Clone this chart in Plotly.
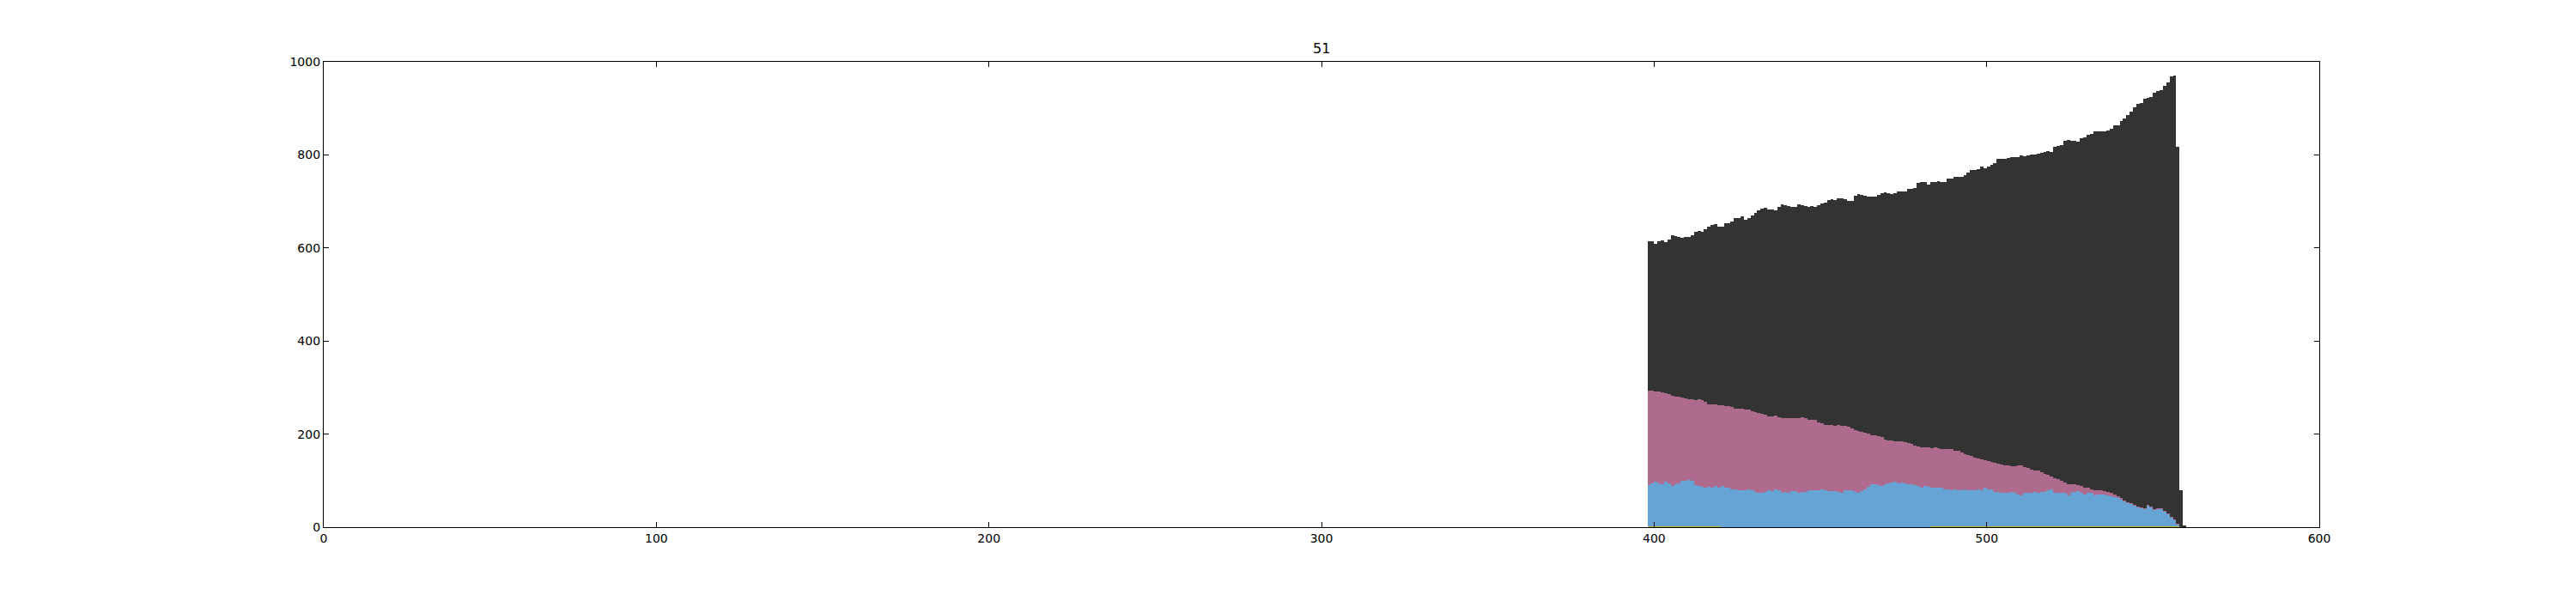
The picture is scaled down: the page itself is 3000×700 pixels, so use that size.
import numpy as np
import plotly.graph_objects as go

title_text = "51"
x_first = 398  # left edge of first bar (bars are 1 unit wide, edge-aligned)

# Level of the top of each stacked layer (one value per bar)
total_top = [615, 615, 608, 614, 616, 613, 619, 628, 626, 623, 621, 624, 623, 628, 634, 636, 634, 640, 646, 650,
             652, 646, 646, 653, 653, 656, 664, 665, 667, 661, 664, 669, 675, 680, 684, 687, 682, 682, 681, 688,
             693, 691, 690, 689, 689, 694, 692, 690, 688, 690, 689, 692, 695, 698, 703, 704, 703, 706, 706, 704,
             702, 702, 713, 716, 714, 712, 711, 710, 711, 714, 718, 720, 717, 715, 718, 722, 721, 721, 727, 727,
             728, 740, 741, 742, 737, 741, 742, 744, 742, 742, 749, 750, 752, 752, 753, 757, 762, 768, 768, 769,
             775, 771, 775, 778, 783, 791, 791, 791, 793, 795, 796, 795, 798, 797, 799, 800, 801, 803, 804, 807,
             809, 806, 817, 820, 821, 831, 832, 831, 831, 829, 835, 837, 843, 845, 851, 850, 850, 850, 852, 856,
             864, 864, 872, 878, 885, 893, 902, 909, 912, 921, 922, 925, 933, 938, 939, 949, 956, 968, 971, 818,
             80, 4]

pink_top = [293, 293, 292, 291, 290, 288, 286, 283, 281, 281, 278, 276, 274, 274, 273, 274, 273, 270, 264, 263,
            263, 262, 262, 261, 261, 258, 255, 254, 255, 253, 253, 250, 247, 245, 244, 241, 238, 238, 239, 237,
            234, 235, 235, 235, 234, 234, 236, 235, 230, 230, 230, 226, 223, 220, 219, 219, 218, 219, 217, 217,
            215, 213, 209, 207, 205, 203, 201, 198, 197, 196, 193, 189, 187, 186, 185, 184, 184, 182, 181, 179,
            176, 173, 172, 171, 171, 170, 171, 170, 168, 167, 167, 167, 164, 165, 161, 157, 155, 153, 150, 147,
            145, 143, 142, 140, 138, 136, 135, 133, 132, 131, 131, 132, 132, 130, 127, 124, 122, 122, 118, 114,
            113, 109, 106, 103, 100, 96, 93, 92, 92, 91, 88, 85, 84, 82, 80, 79, 79, 77, 76, 74,
            71, 67, 63, 57, 54, 51, 48, 45, 43, 41, 48, 45, 39, 40, 41, 35, 29, 23, 17, 8,
            0, 0]

blue_top = [90, 95, 97, 94, 93, 97, 95, 89, 92, 94, 99, 100, 102, 99, 90, 88, 87, 85, 87, 85,
            88, 85, 89, 85, 84, 82, 82, 80, 80, 79, 82, 79, 76, 73, 74, 76, 79, 77, 82, 79,
            73, 76, 74, 77, 77, 73, 76, 76, 79, 79, 80, 79, 82, 79, 77, 77, 77, 76, 74, 79,
            79, 80, 76, 73, 77, 82, 87, 92, 93, 90, 89, 92, 94, 96, 97, 95, 96, 95, 93, 93,
            90, 88, 85, 88, 87, 85, 84, 84, 85, 82, 82, 80, 82, 80, 80, 82, 79, 79, 80, 82,
            80, 85, 82, 82, 76, 76, 74, 74, 74, 76, 73, 71, 69, 73, 74, 74, 76, 74, 76, 76,
            79, 82, 73, 73, 73, 73, 69, 74, 76, 77, 74, 71, 73, 73, 69, 71, 71, 70, 68, 67,
            65, 62, 59, 56, 53, 50, 47, 44, 42, 40, 47, 44, 38, 39, 40, 34, 28, 22, 16, 7,
            0, 0]

yellow = [2, 2, 2, 2, 2, 2, 2, 2, 2, 2, 2, 2, 2, 2, 2, 2, 2, 2, 2, 2,
          2, 2, 0, 0, 0, 0, 0, 0, 0, 0, 0, 0, 0, 0, 0, 0, 0, 0, 0, 0,
          0, 0, 0, 0, 0, 0, 0, 0, 0, 0, 0, 0, 0, 0, 0, 0, 0, 0, 0, 0,
          0, 0, 0, 0, 0, 0, 0, 0, 0, 0, 0, 0, 0, 0, 0, 0, 0, 0, 0, 0,
          0, 0, 0, 0, 0, 2, 2, 2, 2, 2, 2, 2, 2, 2, 2, 2, 2, 2, 2, 2,
          2, 2, 2, 2, 2, 2, 2, 2, 2, 2, 2, 2, 2, 2, 2, 2, 2, 2, 2, 2,
          2, 2, 2, 2, 2, 2, 2, 2, 2, 2, 2, 2, 2, 2, 2, 2, 2, 2, 2, 2,
          2, 2, 2, 2, 2, 2, 2, 2, 2, 2, 2, 2, 2, 2, 2, 2, 2, 2, 2, 2,
          0, 0]

x_ticks = [0, 100, 200, 300, 400, 500, 600]
y_ticks = [0, 200, 400, 600, 800, 1000]

n = len(total_top)
bins = x_first + np.arange(n)

t = np.array(total_top, float)
p = np.array(pink_top, float)
b = np.array(blue_top, float)
yv = np.array(yellow, float)

seg_yellow = yv
seg_blue = np.clip(b - yv, 0, None)
seg_pink = np.clip(p - b, 0, None)
seg_dark = np.clip(t - np.maximum(p, b), 0, None)

series = [
    ("yellow", seg_yellow, "#bcbc2c"),
    ("blue", seg_blue, "#65a4d5"),
    ("pink", seg_pink, "#ae6b8e"),
    ("dark", seg_dark, "#333333"),
]

fig = go.Figure()
for name, vals, col in series:
    fig.add_trace(go.Bar(
        x=bins, y=vals, width=1, offset=0, name=name,
        marker=dict(color=col, line=dict(width=0)),
        showlegend=False,
    ))

font = dict(family="DejaVu Sans", size=14, color="black")
axis_common = dict(
    showline=True, linecolor="black", linewidth=1.3, mirror="allticks",
    ticks="inside", ticklen=6, tickwidth=1, tickcolor="black",
    showgrid=False, zeroline=False, tickfont=font,
)
fig.update_xaxes(range=[0, 600], tickvals=x_ticks, **axis_common)
fig.update_yaxes(range=[0, 1000], tickvals=y_ticks, **axis_common)

fig.update_layout(
    width=3000, height=700,
    margin=dict(l=369, r=307, t=64, b=94, autoexpand=False),
    paper_bgcolor="white", plot_bgcolor="white",
    barmode="stack", bargap=0,
    font=font,
    annotations=[dict(text=title_text, x=0.5, y=1, xref="paper", yref="paper",
                      xanchor="center", yanchor="bottom", yshift=4, showarrow=False,
                      font=dict(family="DejaVu Sans", size=16, color="black"))],
)

fig.write_html("out.html")
